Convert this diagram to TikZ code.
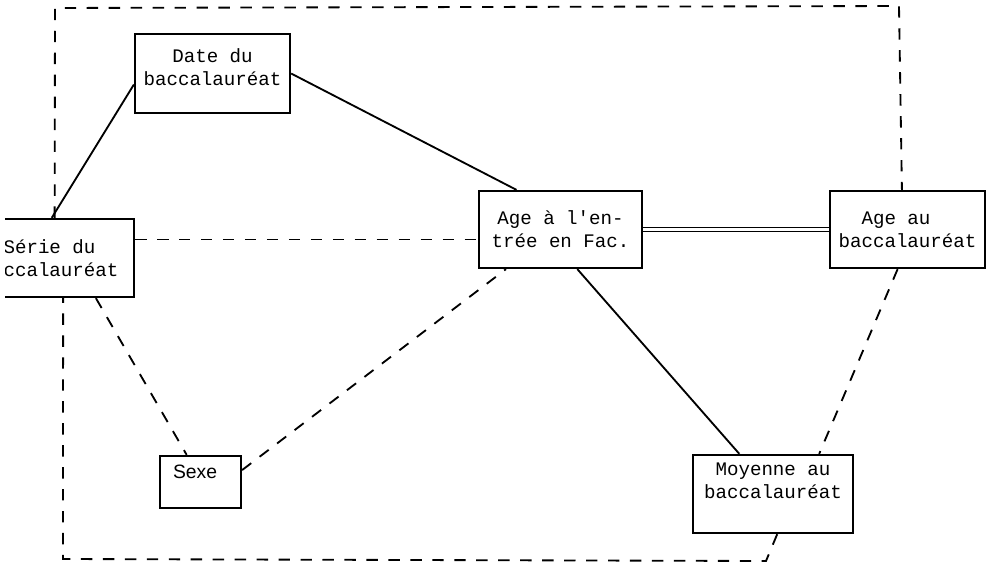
\documentclass[tikz,border=0pt]{standalone}
\usepackage{fontspec}
\setmonofont{Liberation Mono}
\newfontfamily\sexefont{Liberation Sans}
\usepackage{tikz}

\begin{document}
\begin{tikzpicture}[x=0.02cm, y=-0.02cm, line width=1.05pt, var/.style = {draw, line width=1.3pt, align=center, inner sep=1pt, font=\fontsize{10.9}{13}\selectfont\ttfamily}, tiret/.style = {dashed, dash pattern=on 6.5pt off 6pt}]
\useasboundingbox (0,0) rectangle (988,568);
\clip (5,0) rectangle (988,568);
\node[var, minimum width=3.1cm, minimum height=1.58cm, text depth=7.6pt] (date) at (212.5,73.5) {Date du\\baccalauréat};
\node[var, align=left, minimum width=2.92cm, minimum height=1.56cm] (serie) at (61,258) {Série du\\ccalauréat};
\node[var, minimum width=3.26cm, minimum height=1.54cm] (entree) at (560.5,229.5) {Age à l'en-\\trée en Fac.};
\node[var, minimum width=3.1cm, minimum height=1.54cm] (agebac) at (907.5,229.5) {Age au\hphantom{xx}\\baccalauréat};
\node[var, minimum width=3.2cm, minimum height=1.56cm, text depth=15pt] (moyenne) at (773,494) {Moyenne au\\baccalauréat};
\node[var, align=left, text width=1.1cm, minimum width=1.62cm, minimum height=1.04cm, text depth=11.3pt, font=\sexefont\fontsize{11}{13}\selectfont] (sexe) at (200.5,482) {Sexe};
\coordinate (hg) at (55,8);
\coordinate (hd) at (899,6);
\coordinate (bd) at (766,561);
\coordinate (bg) at (63,559);
% liens pleins
\draw (serie.103) -- (date.188);
\draw (date.east) -- (entree.138);
\draw (entree.-67) -- (moyenne.130);
\draw[double, line width=0.55pt, double distance=1.4pt] (entree.east) -- (agebac.west);
% liens en tirets
\draw[tiret] (serie.14) -- (serie.14 -| entree.west);
\draw[tiret] (serie.-49) -- (sexe.117);
\draw[tiret] (sexe.16) -- (entree.-144);
\draw[tiret] (serie.99) -- (hg) -- (hd) -- (agebac.98);
\draw[tiret] (agebac.-104) -- (moyenne.41);
\draw[tiret] (moyenne.-84) -- (bd) -- (bg) -- (serie.-87);
\end{tikzpicture}
\end{document}
